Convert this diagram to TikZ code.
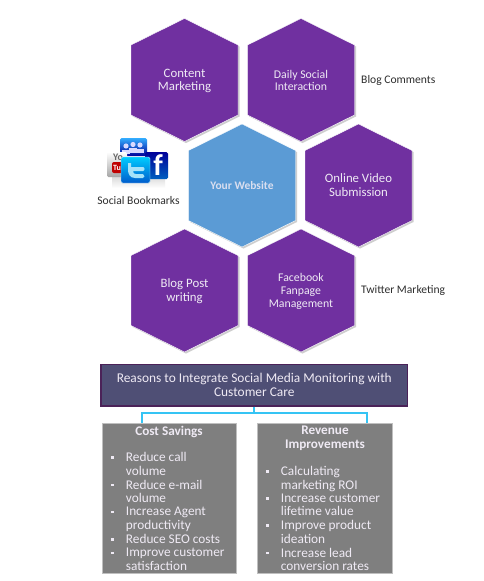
\documentclass[tikz,border=0pt]{standalone}
\usepackage{fontspec}
\setmainfont{Carlito}
\usetikzlibrary{calc}
\definecolor{hexpurple}{HTML}{7030A0}
\definecolor{hexblue}{HTML}{5B9BD5}
\definecolor{bannerfill}{HTML}{4F4F75}
\definecolor{bannerline}{HTML}{4B2258}
\definecolor{linkcyan}{HTML}{35C4F4}
\definecolor{boxgray}{HTML}{7F7F7F}
\definecolor{softwhite}{HTML}{EFEAF4}
\definecolor{darktxt}{HTML}{2E2E2E}
\newcommand{\hexpath}{(-53.5,-35) -- (0,-61.5) -- (53.5,-35) -- (53.5,35) -- (0,61.5) -- (-53.5,35) -- cycle}
\tikzset{
  x=1pt,y=-1pt,
  hexlabel/.style={inner sep=0pt,align=center,text=softwhite},
  sidelabel/.style={inner sep=0pt,anchor=west,text=darktxt,font=\fontsize{11.6}{13}\selectfont},
  boxhead/.style={inner sep=0pt,align=center,text=softwhite,font=\fontsize{13.2}{13.6}\selectfont\bfseries},
  itemtxt/.style={inner sep=0pt,anchor=north west,align=left,text=softwhite,font=\fontsize{13.3}{13.6}\selectfont},
  bulletmark/.style={fill=softwhite,inner sep=0pt,minimum size=2.6pt},
  graybox/.style={fill=boxgray,draw=black!25,line width=.5pt,inner sep=0pt,minimum width=134.5,minimum height=150},
  link/.style={draw=linkcyan,line width=1.8pt},
  iconbox/.style={rounded corners=1.5pt}
}
\newcommand{\hexagonat}[3]{%
  \fill[black!35,opacity=.55,shift={(#1+1.5,#2+1.5)}] \hexpath;
  \fill[#3,draw=white,line width=.4pt,shift={(#1,#2)}] \hexpath;
}
\begin{document}
\begin{tikzpicture}
\useasboundingbox (0,0) rectangle (484,581);
\fill[white] (0,0) rectangle (484,581);
% hexagons
\hexagonat{184.5}{80}{hexpurple}
\hexagonat{301}{80}{hexpurple}
\hexagonat{242}{185.5}{hexblue}
\hexagonat{358.5}{185.5}{hexpurple}
\hexagonat{184.5}{290.5}{hexpurple}
\hexagonat{301}{290.5}{hexpurple}
\node[hexlabel,font=\fontsize{12.8}{13.8}\selectfont] (content) at (184.5,81) {Content\\Marketing};
\node[hexlabel,font=\fontsize{11.8}{12.6}\selectfont] (daily) at (301,80.5) {Daily Social\\Interaction};
\node[hexlabel,font=\fontsize{11.5}{13}\selectfont\bfseries,text=softwhite!85!hexblue] (web) at (242,185.2) {Your Website};
\node[hexlabel,font=\fontsize{12.8}{13.8}\selectfont] (video) at (358.5,185) {Online Video\\Submission};
\node[hexlabel,font=\fontsize{12.8}{13.8}\selectfont] (blog) at (184.5,291.5) {Blog Post\\writing};
\node[hexlabel,font=\fontsize{11.8}{12.8}\selectfont] (fb) at (301,291.2) {Facebook\\Fanpage\\Management};
% side labels
\node[sidelabel] (comments) at (361,80.5) {Blog Comments};
\node[sidelabel] (twitter) at (361,290.5) {Twitter Marketing};
\node[sidelabel,anchor=center] (bookmarks) at (138.5,200.5) {Social Bookmarks};
% social icons
\shade[top color=black!14,bottom color=white] (112,177) rectangle (165,188);
\shade[iconbox,top color=cyan!60!blue!80,bottom color=blue!60!black] (120,138) rectangle (147,156);
\foreach \p/\q in {126/146,133/144.5,140/145}{
  \fill[white!85!blue] (\p,\q) circle (2.6);
  \fill[white!85!blue] (\p-4,\q+8) -- (\p-4,\q+3.5) -- (\p+4,\q+3.5) -- (\p+4,\q+8) -- cycle;
}
\shade[iconbox,top color=blue!60!black,bottom color=cyan!50!blue!75!black] (145,152) rectangle (168,179);
\node[inner sep=0pt,text=white,font=\fontsize{30}{30}\selectfont\bfseries] (fbicon) at (158,165) {f};
\shade[iconbox,top color=white,bottom color=black!35] (107,152) rectangle (127,177);
\fill[red!75!black,rounded corners=2pt] (112,162) rectangle (124,173);
\node[inner sep=0pt,text=black!60,font=\fontsize{10}{10}\selectfont\bfseries] (yticon) at (118,157.5) {Yo};
\node[inner sep=0pt,text=white,font=\fontsize{8}{8}\selectfont\bfseries] (tuicon) at (117,167.5) {Tu};
\shade[iconbox,top color=cyan!80!blue,bottom color=blue!55!cyan!80!black,draw=white!70!cyan,line width=.4pt] (121,157) rectangle (150,183);
\fill[white!65!cyan] (128,163) -- (131,163) -- (131,167) -- (143,167) .. controls (145,167) and (145,171) .. (143,171) -- (133,171) .. controls (133,173) and (134,174) .. (136,174) -- (143,174) .. controls (145,175) and (145,178) .. (143,178) -- (135,178) .. controls (130,178) and (128,174) .. (128,170) -- cycle;
% banner
\node[fill=bannerfill,draw=bannerline,line width=1.3pt,inner sep=0pt,minimum width=306.5,minimum height=41.5,align=center,text=softwhite,font=\fontsize{13.4}{13.8}\selectfont] (banner) at (254.3,385.2) {\raisebox{-1pt}{Reasons to Integrate Social Media Monitoring with}\\[0pt]\raisebox{-1pt}{Customer Care}};
% grey boxes and connector
\coordinate (bus) at ($(banner.south)+(0,6.7)$);
\coordinate (dropl) at (141.7,423.5);
\coordinate (dropr) at (367,423.5);
\draw[link] (banner.south) -- (bus);
\draw[link] (dropl) -- (dropl |- bus) -- (dropr |- bus) -- (dropr);
\node[graybox] (cost) at (169,498.3) {};
\node[graybox] (rev) at (324.5,498.3) {};
% lists
\node[boxhead] (costh) at (169,432) {Cost Savings};
\node[boxhead] (revh) at (325,438.5) {Revenue\\Improvements};
\foreach \n/\yy/\t in {a/452.5/{Reduce call\\volume},b/479.7/{Reduce e-mail\\volume},c/506.9/{Increase Agent\\productivity},d/534.1/{Reduce SEO costs},e/547.7/{Improve customer\\satisfaction}}{
  \node[itemtxt] (c\n) at (125.7,\yy) {\t};
  \node[bulletmark] (cb\n) at (112.7,\yy+5.2) {};
}
\foreach \n/\yy/\t in {a/466.1/{Calculating\\marketing ROI},b/493.3/{Increase customer\\lifetime value},c/520.5/{Improve product\\ideation},d/547.7/{Increase lead\\conversion rates}}{
  \node[itemtxt] (r\n) at (280.7,\yy) {\t};
  \node[bulletmark] (rb\n) at (267.7,\yy+5.2) {};
}
\end{tikzpicture}
\end{document}
